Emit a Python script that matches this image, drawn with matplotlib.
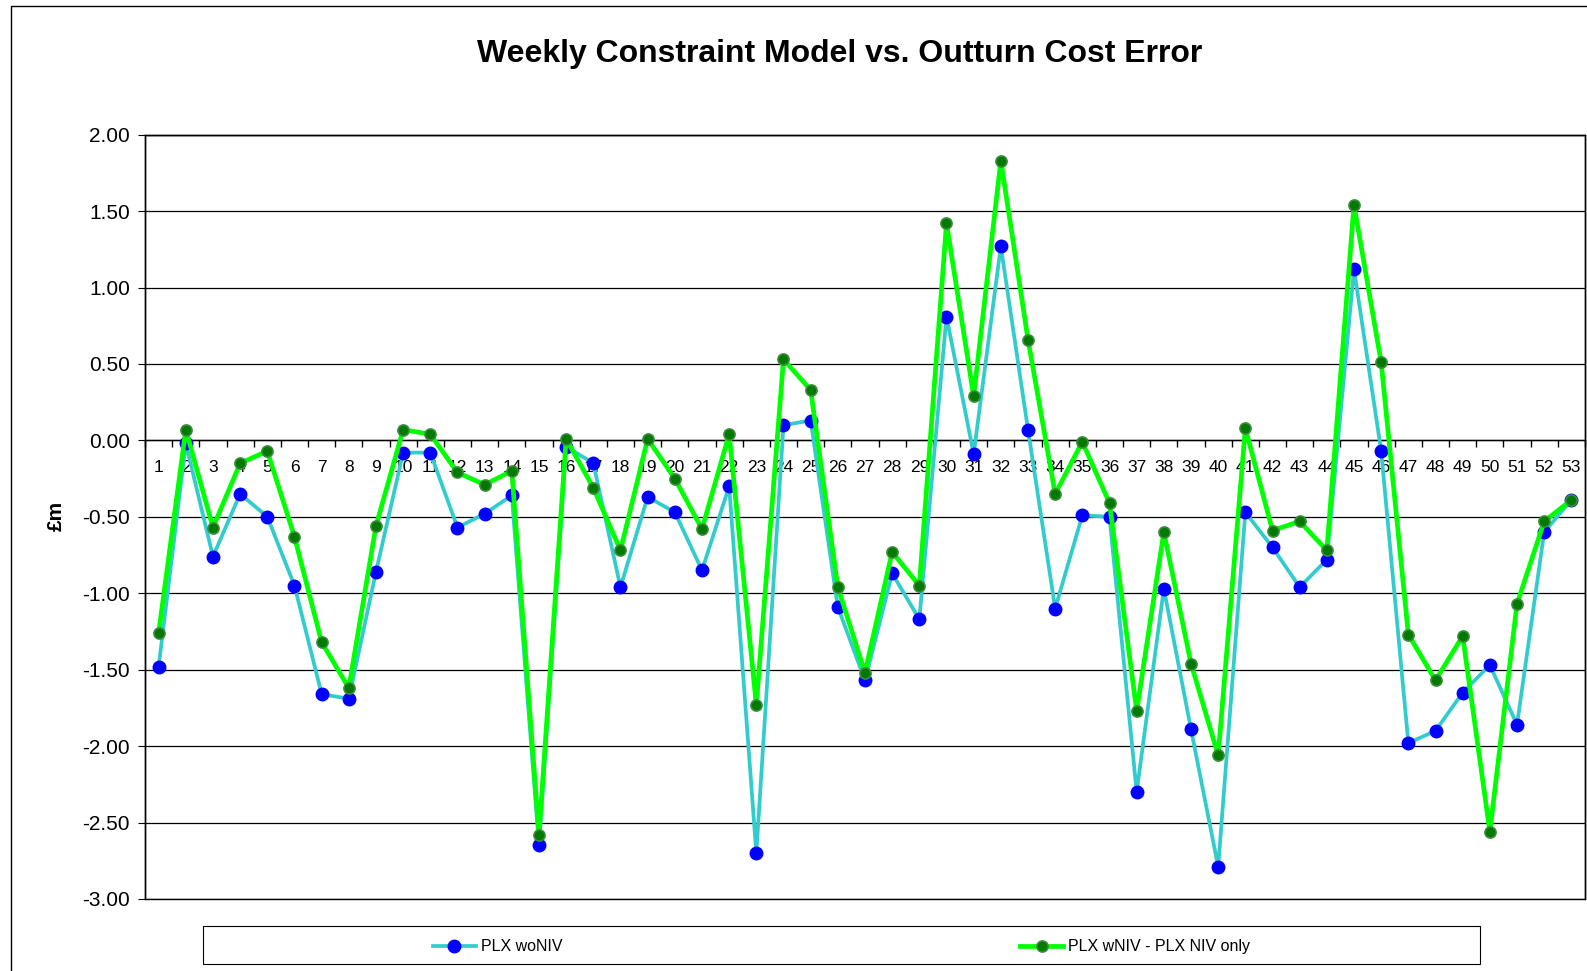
import matplotlib
matplotlib.use("Agg")
import matplotlib.pyplot as plt
from matplotlib.patches import Rectangle
import numpy as np

plt.rcParams['font.family'] = ['Liberation Sans', 'DejaVu Sans']

# week numbers and the two error series (in £m)
weeks = np.arange(1, 54)
week_labels = [str(w) for w in weeks]

plx_wo_niv = [-1.48, -0.02, -0.76, -0.35, -0.50, -0.95, -1.66, -1.69, -0.86, -0.08,
              -0.08, -0.57, -0.48, -0.36, -2.65, -0.04, -0.15, -0.96, -0.37, -0.47,
              -0.85, -0.30, -2.70, 0.10, 0.13, -1.09, -1.57, -0.87, -1.17, 0.81,
              -0.09, 1.27, 0.07, -1.10, -0.49, -0.50, -2.30, -0.97, -1.89, -2.79,
              -0.47, -0.70, -0.96, -0.78, 1.12, -0.07, -1.98, -1.90, -1.65, -1.47,
              -1.86, -0.60, -0.39]

plx_w_niv = [-1.26, 0.07, -0.57, -0.15, -0.07, -0.63, -1.32, -1.62, -0.56, 0.07,
             0.04, -0.21, -0.29, -0.20, -2.58, 0.01, -0.31, -0.72, 0.01, -0.25,
             -0.58, 0.04, -1.73, 0.53, 0.33, -0.96, -1.52, -0.73, -0.95, 1.42,
             0.29, 1.83, 0.66, -0.35, -0.01, -0.41, -1.77, -0.60, -1.46, -2.06,
             0.08, -0.59, -0.53, -0.72, 1.54, 0.51, -1.27, -1.57, -1.28, -2.56,
             -1.07, -0.53, -0.39]

title = 'Weekly Constraint Model vs. Outturn Cost Error'

fig = plt.figure(figsize=(15.87, 9.71), dpi=100, facecolor='w')
ax = fig.add_axes([0.0914, 0.0742, 0.9073, 0.7871])

l1, = ax.plot(weeks, plx_wo_niv, color='#33CCCC', lw=2.7, marker='o', ms=9,
              mfc='#0000FF', mec='#0000FF', zorder=3)
l2, = ax.plot(weeks, plx_w_niv, color='#00FF00', lw=3.4, marker='o', ms=8,
              mfc='#007A00', mec='#3C8C3C', mew=1.2, zorder=4)

ax.set_xlim(0.5, 53.5)
ax.set_ylim(-3, 2)
yt = np.arange(-3, 2.01, 0.5)
ax.set_yticks(yt)
ax.set_yticklabels(['%.2f' % v for v in yt])
ax.yaxis.grid(True, color='black', lw=0.9)
ax.set_axisbelow(True)

ax.set_xticks(weeks)
ax.set_xticklabels(week_labels)
ax.set_xticks(np.arange(0.5, 54, 1), minor=True)
ax.tick_params(axis='x', which='major', length=0, pad=14, labelsize=12.5)
ax.tick_params(axis='x', which='minor', length=5, direction='out', width=1)
ax.tick_params(axis='y', length=5, direction='out', pad=6, labelsize=15)

ax.spines['bottom'].set_position(('data', 0))
for s in ax.spines.values():
    s.set_linewidth(1)
ax.add_patch(Rectangle((0, 0), 1, 1, transform=ax.transAxes, fill=False,
                       edgecolor='black', lw=1, zorder=5, clip_on=False))

fig.text(0.529, 0.944, title, ha='center', va='center', fontsize=23,
         fontweight='bold')
fig.text(0.0353, 0.4686, '£m', rotation=90, ha='center', va='center',
         fontsize=15, fontweight='bold')

# legend box + entries
fig.add_artist(Rectangle((0.1279, 0.0072), 0.8047, 0.0391,
                         transform=fig.transFigure, fill=False,
                         edgecolor='black', lw=0.8))
fig.legend([l1], ['PLX woNIV'], loc='center left', bbox_to_anchor=(0.2728, 0.025),
           frameon=False, handlelength=2.7, handletextpad=0.3, fontsize=11.5,
           borderpad=0, borderaxespad=0)
fig.legend([l2], ['PLX wNIV - PLX NIV only'], loc='center left',
           bbox_to_anchor=(0.6427, 0.025), frameon=False, handlelength=2.7,
           handletextpad=0.3, fontsize=11.5, borderpad=0, borderaxespad=0)

# outer chart frame
fig.add_artist(Rectangle((11 / 1587, -0.1), 1.5, 1.0938,
                         transform=fig.transFigure, fill=False,
                         edgecolor='black', lw=1))

fig.savefig('out.png', dpi=100)
